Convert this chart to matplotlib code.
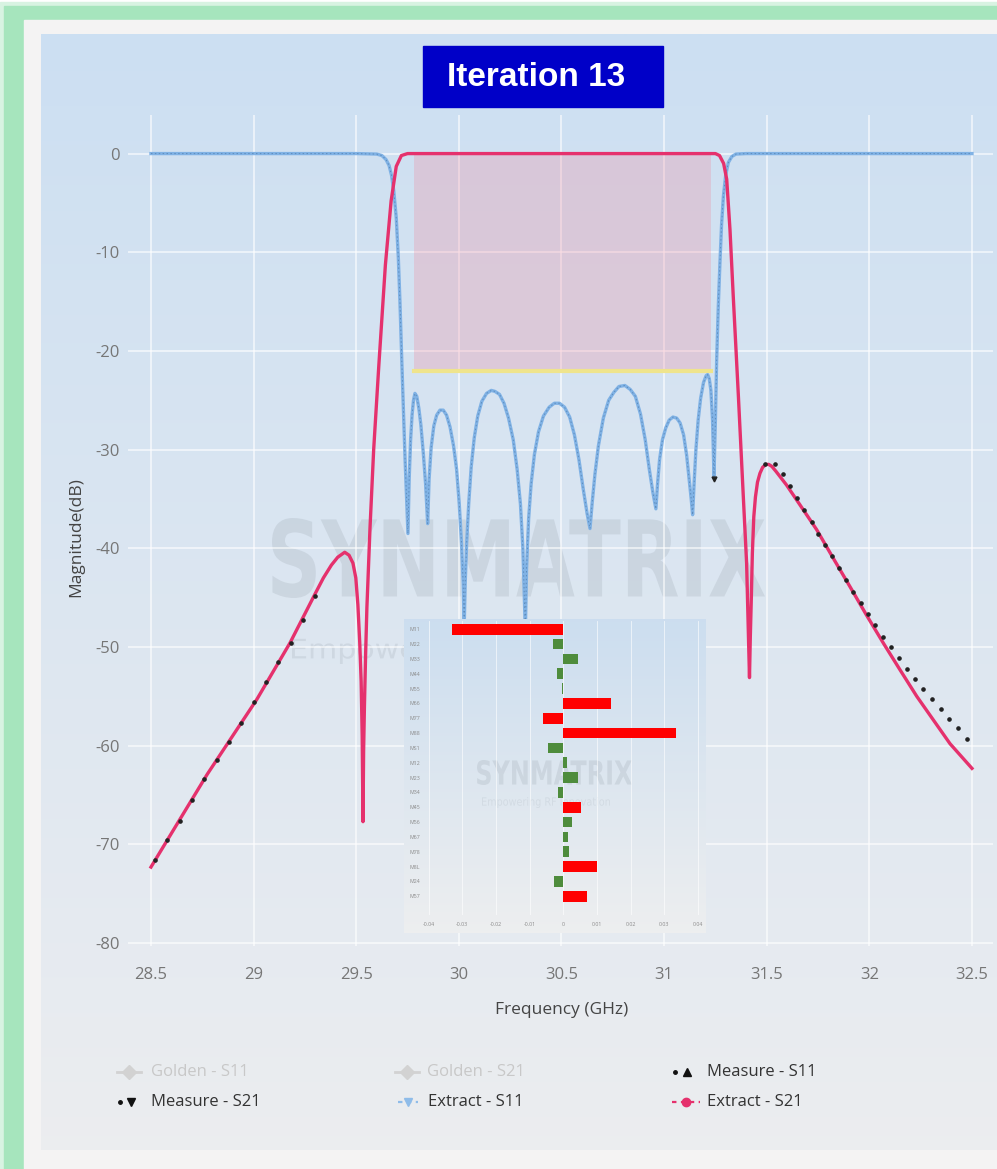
"""
Filter tuning screen: extracted / measured S-parameters with coupling
deviation inset (Iteration 13).
"""
import numpy as np
import matplotlib
matplotlib.use("Agg")
import matplotlib.pyplot as plt
from matplotlib.patches import Rectangle, PathPatch
from matplotlib.textpath import TextPath
from matplotlib.font_manager import FontProperties
from matplotlib.transforms import Affine2D

plt.rcParams['font.family'] = ['Open Sans', 'DejaVu Sans']
plt.rcParams['axes.unicode_minus'] = False

PINK = '#e5316d'
BLUE = '#80b2e5'
RED = '#ff0000'
GREEN = '#4e8c3c'
TICK = '#767676'

# ── Data ──────────────────────────────────────────────────────────────────────
S11_F = [28.50, 29.00, 29.50, 29.60, 29.625, 29.645, 29.66, 29.672, 29.683, 29.695,
         29.705, 29.713, 29.722, 29.738, 29.752,
         29.758, 29.765, 29.772, 29.779, 29.786, 29.795, 29.805, 29.815, 29.827,
         29.838, 29.848,
         29.855, 29.865, 29.878, 29.892, 29.908, 29.924, 29.940, 29.957, 29.974,
         29.989, 30.002, 30.013, 30.021, 30.026,
         30.031, 30.038, 30.048, 30.060, 30.075, 30.092, 30.112, 30.135, 30.158,
         30.176, 30.198, 30.220, 30.242, 30.265, 30.284, 30.300, 30.312, 30.324,
         30.330, 30.340, 30.352, 30.368, 30.388, 30.412, 30.440, 30.465, 30.490,
         30.515, 30.540, 30.563, 30.585, 30.606, 30.625, 30.639,
         30.650, 30.663, 30.680, 30.704, 30.730, 30.755, 30.780, 30.809, 30.835,
         30.860, 30.885, 30.908, 30.928, 30.945, 30.960,
         30.968, 30.978, 30.992, 31.008, 31.025, 31.043, 31.061, 31.078, 31.095,
         31.110, 31.122, 31.132, 31.139,
         31.146, 31.155, 31.166, 31.178, 31.192, 31.205, 31.212, 31.220, 31.228,
         31.236, 31.243,
         31.250, 31.256, 31.264, 31.272, 31.280, 31.289, 31.300, 31.313, 31.330,
         31.350, 31.40, 32.00, 32.50]
S11_DB = [0.0, 0.0, 0.0, -0.05, -0.2, -0.6, -1.2, -2.2, -3.8, -6.5,
          -10.5, -15.0, -21.0, -31.0, -38.5,
          -33.0, -29.0, -26.5, -25.0, -24.3, -24.6, -25.8, -27.5, -30.4,
          -33.5, -37.5,
          -33.0, -29.8, -27.6, -26.5, -26.0, -26.0, -26.5, -27.7, -29.6,
          -32.0, -35.5, -39.5, -43.5, -48.0,
          -43.5, -39.5, -35.5, -31.8, -28.8, -26.6, -25.1, -24.3, -24.0,
          -24.1, -24.4, -25.3, -26.8, -29.0, -32.0, -35.5, -40.0, -48.5,
          -42.0, -37.0, -33.5, -30.5, -28.2, -26.6, -25.7, -25.3, -25.3,
          -25.7, -26.7, -28.5, -31.0, -34.0, -36.5, -38.0,
          -35.3, -32.5, -29.6, -26.8, -25.0, -24.2, -23.6, -23.5, -23.9,
          -24.6, -26.4, -29.0, -32.0, -34.3, -36.0,
          -33.5, -31.0, -29.0, -27.8, -27.0, -26.7, -26.8, -27.3, -28.5,
          -30.6, -33.0, -35.0, -36.6,
          -33.5, -30.0, -27.0, -24.8, -23.2, -22.5, -22.4, -22.8, -24.0,
          -27.0, -32.7,
          -27.0, -21.0, -15.5, -11.1, -7.2, -4.3, -2.2, -0.9, -0.3,
          -0.05, 0.0, 0.0, 0.0]

S21_F = [28.50, 28.774, 29.016, 29.177, 29.30, 29.34, 29.379, 29.41, 29.444,
         29.465, 29.484, 29.498, 29.508, 29.517, 29.524, 29.529, 29.533,
         29.536, 29.540, 29.546, 29.552, 29.567, 29.585, 29.610, 29.642, 29.670,
         29.695, 29.72, 29.75, 30.50, 31.25, 31.27, 31.29, 31.305, 31.321,
         31.337, 31.362, 31.386, 31.402, 31.416,
         31.420, 31.425, 31.430, 31.437, 31.445, 31.455, 31.467, 31.480, 31.495,
         31.510, 31.525, 31.545, 31.597, 31.662, 31.743, 31.824, 31.906, 31.987,
         32.068, 32.149, 32.231, 32.312, 32.393, 32.50]
S21_DB = [-72.3, -62.9, -55.3, -49.6, -44.6, -43.0, -41.7, -40.9, -40.4,
          -40.7, -41.5, -43.0, -45.7, -49.5, -53.5, -59.0, -67.7,
          -60.5, -56.0, -50.5, -46.0, -38.0, -30.0, -21.5, -11.3, -4.8,
          -1.3, -0.2, 0.0, 0.0, 0.0, -0.2, -1.0, -2.6, -7.7,
          -14.5, -24.6, -34.8, -41.5, -53.1,
          -49.0, -45.0, -40.5, -36.8, -34.8, -33.3, -32.4, -31.8, -31.5,
          -31.5, -31.7, -32.2, -33.6, -35.6, -38.1, -41.0, -43.9, -46.8,
          -49.6, -52.3, -55.0, -57.4, -59.8, -62.3]

MEAS_S21_F = [28.52, 28.58, 28.64, 28.70, 28.76, 28.82, 28.88, 28.94, 29.00,
              29.06, 29.12, 29.18, 29.24, 29.30,
              31.492, 31.540, 31.578, 31.613, 31.649, 31.683, 31.719, 31.751,
              31.784, 31.818, 31.852, 31.886, 31.922, 31.958, 31.993, 32.029,
              32.066, 32.104, 32.143, 32.183, 32.224, 32.263, 32.305, 32.347,
              32.389, 32.433, 32.477]
MEAS_S21_DB = [-71.6, -69.6, -67.6, -65.5, -63.4, -61.5, -59.6, -57.7, -55.6,
               -53.5, -51.5, -49.6, -47.3, -44.8,
               -31.5, -31.5, -32.5, -33.7, -34.9, -36.1, -37.3, -38.5,
               -39.7, -40.8, -42.0, -43.2, -44.4, -45.5, -46.7, -47.8,
               -49.0, -50.0, -51.1, -52.2, -53.2, -54.3, -55.3, -56.3,
               -57.3, -58.2, -59.3]
MEAS_S11_F = [31.243]
MEAS_S11_DB = [-33.0]

SPEC_F = [29.781, 31.228]
SPEC_DB = -22.0

X_TICKS = [28.5, 29, 29.5, 30, 30.5, 31, 31.5, 32, 32.5]
X_LABELS = ['28.5', '29', '29.5', '30', '30.5', '31', '31.5', '32', '32.5']
Y_TICKS = [0, -10, -20, -30, -40, -50, -60, -70, -80]

COUPLINGS = ['M11', 'M22', 'M33', 'M44', 'M55', 'M66', 'M77', 'M88', 'MS1', 'M12',
             'M23', 'M34', 'M45', 'M56', 'M67', 'M78', 'M8L', 'M24', 'M57']
DEVIATION = [-0.0332, -0.0030, 0.0043, -0.0020, -0.0005, 0.0142, -0.0061, 0.0334,
             -0.0044, 0.0010, 0.0043, -0.0015, 0.0054, 0.0027, 0.0013, 0.0017,
             0.0100, -0.0028, 0.0071]
DEV_TICKS = [-0.04, -0.03, -0.02, -0.01, 0, 0.01, 0.02, 0.03, 0.04]
DEV_LABELS = ['-0.04', '-0.03', '-0.02', '-0.01', '0', '0.01', '0.02', '0.03', '0.04']

W, H = 997, 1169
fig = plt.figure(figsize=(W / 100, H / 100), dpi=100)


def vgrad(axis, x0, x1, y0, y1, top, bot, z):
    t = np.linspace(0, 1, 256)[:, None, None]
    img = (1 - t) * np.array(top)[None, None, :] + t * np.array(bot)[None, None, :]
    axis.imshow(img, extent=(x0, x1, y1, y0), aspect='auto', zorder=z,
                interpolation='bilinear')


def fit_text(axis, s, x0, x1, y_top, y_bot, color, alpha, weight='bold', z=2):
    tp = TextPath((0, 0), s, size=1, prop=FontProperties(family='DejaVu Sans', weight=weight))
    ext = tp.get_extents()
    tr = (Affine2D().translate(-ext.x0, -ext.y0)
          .scale((x1 - x0) / ext.width, -(y_bot - y_top) / ext.height)
          .translate(x0, y_bot))
    axis.add_patch(PathPatch(tp, transform=tr + axis.transData, fc=color,
                             ec='none', alpha=alpha, zorder=z))


# ── Background frame (pixel coordinates) ──────────────────────────────────────
bg = fig.add_axes([0, 0, 1, 1])
bg.axis('off')
bg.add_patch(Rectangle((0, 2), W, H, color='#d8f3e2', zorder=0))
bg.add_patch(Rectangle((4, 6), W, H, color='#a6e5bd', zorder=0.1))
bg.add_patch(Rectangle((24, 20), W, H, color='#f4f3f3', zorder=0.2))
vgrad(bg, 41, W, 34, 1150, (0.80, 0.875, 0.95), (0.925, 0.93, 0.94), 0.3)

fit_text(bg, 'SYNMATRIX', 272, 765, 518, 598, '#8c96a0', 0.2)
fit_text(bg, 'Empowering RF Innovation', 292, 690, 638, 664, '#8c96a0', 0.18,
         weight='normal')

# title box
bg.add_patch(Rectangle((423, 46), 240, 61, color='#0000c8', zorder=3))
bg.text(536, 78, 'Iteration 13', color='white', fontsize=24, fontweight='bold',
        family='Liberation Sans', ha='center', va='center', zorder=4)

# axis titles
bg.text(562, 1010, 'Frequency (GHz)', fontsize=12.5, color='#444444',
        ha='center', va='center')
bg.text(76, 537, 'Magnitude(dB)', fontsize=12.5, color='#444444', rotation=90,
        ha='center', va='center')

# legend
y1, y2 = 1072, 1102
bg.plot([117, 141], [y1, y1], color='#d2d2d2', lw=2)
bg.plot([129], [y1], marker='D', ms=7, color='#d2d2d2')
bg.text(151, y1, 'Golden - S11', fontsize=12, color='#c8c8c8', va='center')
bg.plot([395, 419], [y1, y1], color='#d2d2d2', lw=2)
bg.plot([407], [y1], marker='D', ms=7, color='#d2d2d2')
bg.text(427, y1, 'Golden - S21', fontsize=12, color='#c8c8c8', va='center')
bg.plot([675], [y1], marker='o', ms=2.5, color='#111111')
bg.plot([687], [y1], marker='^', ms=6, color='#111111')
bg.text(707, y1, 'Measure - S11', fontsize=12, color='#333333', va='center')
bg.plot([120], [y2], marker='o', ms=2.5, color='#111111')
bg.plot([131], [y2], marker='v', ms=6, color='#111111')
bg.text(151, y2, 'Measure - S21', fontsize=12, color='#333333', va='center')
bg.plot([398, 418], [y2, y2], color='#8fbce9', lw=1.6, dashes=(2, 2))
bg.plot([408], [y2], marker='v', ms=6, color='#8fbce9')
bg.text(428, y2, 'Extract - S11', fontsize=12, color='#333333', va='center')
bg.plot([672, 700], [y2, y2], color=PINK, lw=1.6, dashes=(2, 2))
bg.plot([686], [y2], marker='o', ms=6, color=PINK)
bg.text(707, y2, 'Extract - S21', fontsize=12, color='#333333', va='center')

bg.set_xlim(0, W)
bg.set_ylim(H, 0)

# ── Main S-parameter plot ─────────────────────────────────────────────────────
ax = fig.add_axes([128.4 / W, 1 - 946 / H, (992.5 - 128.4) / W, (946 - 114.5) / H])
ax.patch.set_alpha(0)
for s in ax.spines.values():
    s.set_visible(False)
ax.set_xlim(28.39, 32.60)
ax.set_ylim(-80.3, 3.96)
ax.set_xticks(X_TICKS)
ax.set_xticklabels(X_LABELS)
ax.set_yticks(Y_TICKS)
ax.tick_params(length=0, labelsize=12, labelcolor=TICK)
ax.tick_params(axis='x', pad=15)
ax.tick_params(axis='y', pad=6)
ax.grid(color='white', lw=1.1, alpha=0.75)
ax.set_axisbelow(True)

ax.fill_between(SPEC_F, SPEC_DB, 0, color='#f0899d', alpha=0.28, lw=0, zorder=2)
ax.plot(SPEC_F, [SPEC_DB, SPEC_DB], color='#efe48c', lw=3, zorder=2.5)

ax.plot(S11_F, S11_DB, color=BLUE, lw=2.4, zorder=3, solid_joinstyle='round')
ax.plot(S11_F, S11_DB, color='#5d8cbc', lw=0.7, dashes=(1.5, 2.5), zorder=3.1)
ax.plot(S21_F, S21_DB, color=PINK, lw=2.4, zorder=4, solid_joinstyle='round')
ax.plot(MEAS_S21_F, MEAS_S21_DB, 'o', ms=2.3, color='#222222', zorder=5)
ax.plot(MEAS_S11_F, MEAS_S11_DB, 'v', ms=3.5, color='#222222', zorder=5)

# ── Inset: coupling deviation ─────────────────────────────────────────────────
ib = fig.add_axes([404 / W, 1 - 933 / H, 302 / W, 314 / H])
ib.axis('off')
vgrad(ib, 404, 706, 619, 933, (0.80, 0.87, 0.94), (0.93, 0.935, 0.94), 0)
fit_text(ib, 'SYNMATRIX', 477, 632, 760, 785, '#8c96a0', 0.2)
fit_text(ib, 'Empowering RF Innovation', 482, 610, 797, 808, '#8c96a0', 0.15,
         weight='normal')
ib.set_xlim(404, 706)
ib.set_ylim(933, 619)

bx = fig.add_axes([421.9 / W, 1 - 915 / H, 282.8 / W, 294 / H])
bx.patch.set_alpha(0)
for s in bx.spines.values():
    s.set_visible(False)
colors = [RED if abs(v) >= 0.005 else GREEN for v in DEVIATION]
bx.barh(range(len(COUPLINGS)), DEVIATION, height=0.72, color=colors, zorder=3)
bx.set_yticks(range(len(COUPLINGS)))
bx.set_yticklabels(COUPLINGS)
bx.set_xticks(DEV_TICKS)
bx.set_xticklabels(DEV_LABELS)
bx.set_xlim(-0.042, 0.042)
bx.set_ylim(19.26, -0.56)
bx.tick_params(length=0, labelsize=3.8, labelcolor='#8a8a8a')
bx.tick_params(axis='x', pad=5)
bx.tick_params(axis='y', pad=1.5)
bx.grid(axis='x', color='white', lw=0.6, alpha=0.7)
bx.set_axisbelow(True)

fig.savefig('out.png', dpi=100)
